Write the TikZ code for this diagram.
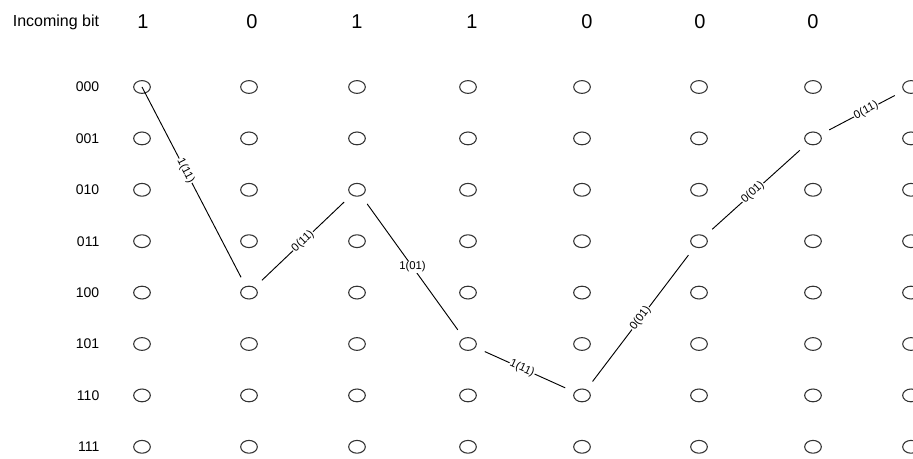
\documentclass[tikz,border=0pt]{standalone}
\usepackage{fontspec}
\setmainfont{Liberation Sans}
\usetikzlibrary{shapes.geometric}

\begin{document}
\begin{tikzpicture}[x=0.75pt, y=-0.75pt,
    state/.style={ellipse, draw=black!80, line width=0.8pt, minimum width=12.5pt, minimum height=9.6pt, inner sep=0pt},
    trans/.style={line width=0.7pt, shorten <=7.5pt, shorten >=7.5pt},
    lbl/.style={font=\fontsize{8.5}{10}\selectfont, fill=white, inner sep=0.6pt},
    slbl/.style={lbl, sloped}]
    \useasboundingbox (0,0) rectangle (913,459);
    \clip (0,0) rectangle (913,459);

    % Header
    \node[font=\fontsize{12}{14}\selectfont] (hdr) at (56,22) {Incoming bit};
    \foreach \c/\x/\b in {0/143/1, 1/252/0, 2/357/1, 3/472/1, 4/587/0, 5/700/0, 6/813/0}
        \node[font=\fontsize{15}{18}\selectfont] (bit-\c) at (\x,22) {\b};

    % Trellis states
    \foreach \c/\x in {0/142, 1/249, 2/357, 3/468, 4/582, 5/699, 6/813, 7/911}
        \foreach \r in {0,...,7}
            \node[state] (s-\c-\r) at (\x, {87+51.4*\r}) {};

    % State labels
    \foreach \r/\s in {0/000, 1/001, 2/010, 3/011, 4/100, 5/101, 6/110, 7/111}
        \node[anchor=east, font=\fontsize{10.5}{12}\selectfont] (reg-\r) at (104, {87+51.4*\r}) {\s};

    % Path through the trellis
    \draw[trans, shorten <=0pt] (s-0-0.center) -- node[slbl, pos=0.42] {1(11)} (s-1-4);
    \draw[trans] (s-1-4) -- node[slbl] {0(11)} (s-2-2);
    \draw[trans] (s-2-2) -- node[lbl] {1(01)} (s-3-5);
    \draw[trans] (s-3-5) -- node[slbl, pos=0.47] {1(11)} (s-4-6);
    \draw[trans] (s-4-6) -- node[slbl] {0(01)} (s-5-3);
    \draw[trans] (s-5-3) -- node[slbl, pos=0.47] {0(01)} (s-6-1);
    \draw[trans] (s-6-1) -- node[slbl, pos=0.55] {0(11)} (s-7-0);
\end{tikzpicture}
\end{document}
